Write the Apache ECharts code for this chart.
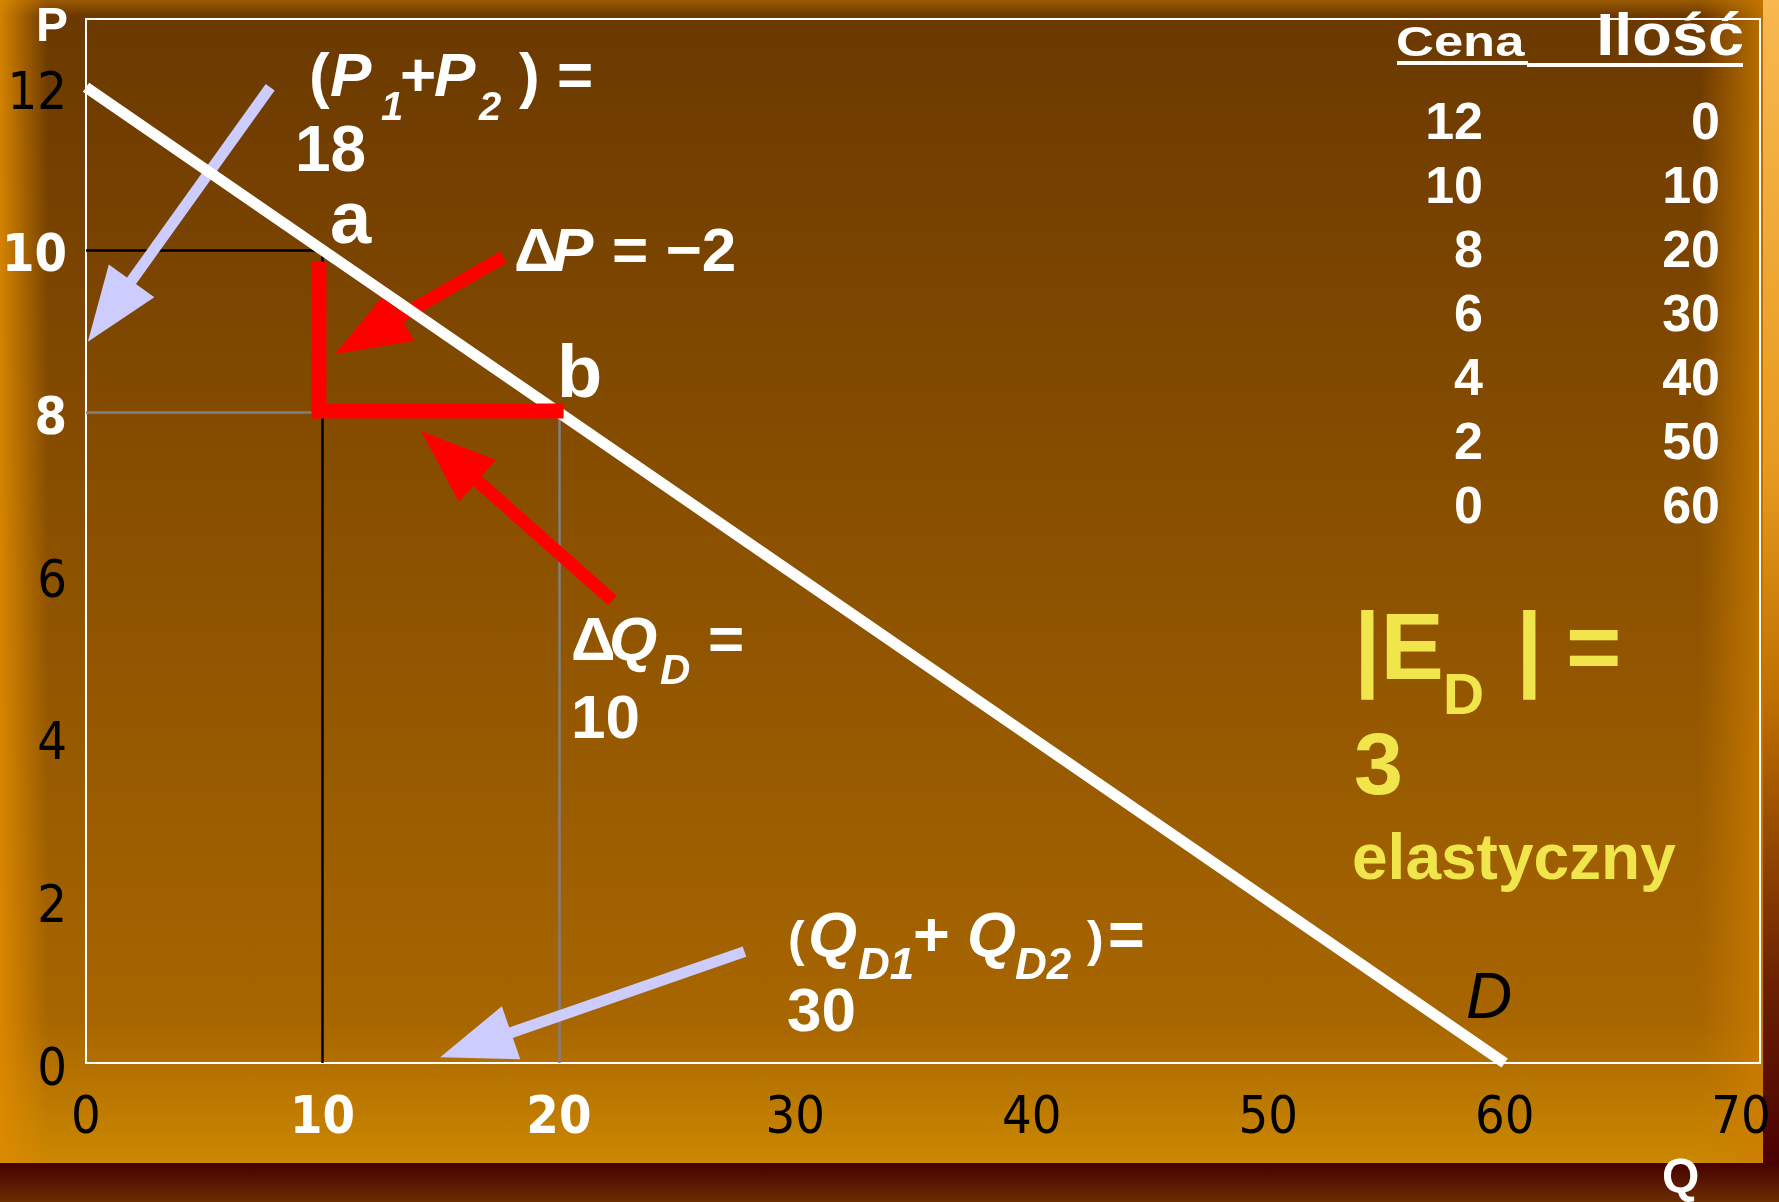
<!DOCTYPE html>
<html>
<head>
<meta charset="utf-8">
<title>Elastyczność popytu</title>
<script src="https://cdn.jsdelivr.net/npm/echarts@6/dist/echarts.min.js"></script>
<style>
  html, body { margin: 0; padding: 0; width: 1779px; height: 1202px; overflow: hidden; background: #4a0000; }
  .bg { position: absolute; }
  #bgMain {
    left: 0; top: 0; width: 1763px; height: 1163px;
    background:
      linear-gradient(to right, rgba(222,138,0,0.9) 0px, rgba(222,138,0,0) 48px, rgba(222,138,0,0) 1700px, rgba(205,125,0,0.8) 1763px),
      linear-gradient(to bottom, rgba(165,98,0,0.8) 0px, rgba(165,98,0,0) 16px),
      linear-gradient(to bottom, #6a3800 0%, #8a5000 45%, #a86600 88%, #cc8800 100%);
  }
  #bgRight {
    left: 1763px; top: 0; width: 16px; height: 1163px;
    background: linear-gradient(to bottom, #f8b850 0%, #e89a20 40%, #c07000 60%, #6a2000 85%, #4a0000 100%);
  }
  #bgBottom {
    left: 0; top: 1163px; width: 1779px; height: 39px;
    background: linear-gradient(to bottom, #460000, #6a2e00);
  }
  #chart { position: absolute; left: 0; top: 0; width: 1779px; height: 1202px; }
</style>
</head>
<body>
<div class="bg" id="bgMain"></div>
<div class="bg" id="bgRight"></div>
<div class="bg" id="bgBottom"></div>
<div id="chart"></div>
<script>
  // dane z tabeli: cena i ilość
  var price = [12, 10, 8, 6, 4, 2, 0];
  var qty = [0, 10, 20, 30, 40, 50, 60];

  // punkty a i b na krzywej popytu [Q, P]
  var pointA = [10, 10];
  var pointB = [20, 8];

  // czerwony kąt ΔP / ΔQ
  var bracket = [[9.85, 9.85], [9.85, 8.02], [20.2, 8.02]];

  // strzałki: [Q ogona, P ogona, Q grotu, P grotu]
  var lavenderArrows = [[7.79, 12.0, 0.08, 8.87], [27.85, 1.37, 14.98, 0.07]];
  var redArrows = [[17.65, 9.91, 10.54, 8.72], [22.26, 5.69, 14.18, 7.77]];

  // zakres osi
  var xMax = 70.8, xStep = 10;
  var yMax = 12.84, yStep = 2;

  var SANS = '"Liberation Sans", Arial, Helvetica, sans-serif';
  var NARROW = '"Liberation Sans Narrow", "Arial Narrow", "DejaVu Sans Condensed", sans-serif';
  var HEAD_LEN = 75, HEAD_W = 28;

  var chart = echarts.init(document.getElementById('chart'));

  // etykieta osi: wyróżnione wartości białe i pogrubione
  function tickFormatter(step, marked) {
    return function (v) {
      if (Math.abs(v % step) > 1e-6) return '';
      return marked.indexOf(v) >= 0 ? '{w|' + v + '}' : '{k|' + v + '}';
    };
  }
  var tickRich = {
    w: { color: '#fff', fontWeight: 'bold', fontSize: 52, fontFamily: NARROW },
    k: { color: '#000', fontWeight: 'normal', fontSize: 52, fontFamily: NARROW }
  };

  function arrowSeries(data, color, shaft, z) {
    return {
      type: 'custom',
      coordinateSystem: 'cartesian2d',
      z: z,
      silent: true,
      clip: false,
      data: data,
      encode: { x: [0, 2], y: [1, 3] },
      renderItem: function (params, api) {
        var t = api.coord([api.value(0), api.value(1)]);
        var h = api.coord([api.value(2), api.value(3)]);
        var dx = h[0] - t[0], dy = h[1] - t[1];
        var len = Math.sqrt(dx * dx + dy * dy);
        var ux = dx / len, uy = dy / len;
        var bx = h[0] - ux * HEAD_LEN, by = h[1] - uy * HEAD_LEN;
        return {
          type: 'group',
          children: [
            { type: 'line', shape: { x1: t[0], y1: t[1], x2: bx + ux * 4, y2: by + uy * 4 },
              style: { stroke: color, lineWidth: shaft } },
            { type: 'polygon',
              shape: { points: [[h[0], h[1]], [bx - uy * HEAD_W, by + ux * HEAD_W], [bx + uy * HEAD_W, by - ux * HEAD_W]] },
              style: { fill: color } }
          ]
        };
      }
    };
  }

  // tekst ustawiany wg linii bazowej
  function txt(x, base, s, size, o) {
    o = o || {};
    return {
      type: 'text',
      x: x,
      y: base - 0.31 * size,
      z: 100,
      scaleX: o.sx || 1,
      silent: true,
      style: {
        text: s,
        fill: o.color || '#fff',
        fontSize: size,
        fontWeight: o.weight || 'bold',
        fontStyle: o.italic ? 'italic' : 'normal',
        fontFamily: o.family || SANS,
        align: o.align || 'left',
        verticalAlign: 'middle'
      }
    };
  }

  var yellow = '#f0e64c';
  var texts = [
    txt(36, 43, 'P', 48),
    txt(1662, 1194, 'Q', 48),
    // (P1+P2) = 18
    txt(309, 98, '(', 62),
    txt(330, 98, 'P', 62, { italic: true }),
    txt(381, 121, '1', 40, { italic: true }),
    txt(400, 98, '+', 62),
    txt(434, 98, 'P', 62, { italic: true }),
    txt(479, 121, '2', 40, { italic: true }),
    txt(519, 98, ')', 62),
    txt(557, 98, '=', 62),
    txt(295, 173, '18', 64),
    // a, b
    txt(330, 246, 'a', 74),
    txt(557, 400, 'b', 74),
    // ΔP = −2
    txt(514, 273, 'Δ', 62),
    txt(552, 273, 'P', 62, { italic: true }),
    txt(612, 273, '= −2', 62),
    // ΔQD = 10
    txt(571, 662, 'Δ', 62),
    txt(609, 662, 'Q', 62, { italic: true }),
    txt(660, 685, 'D', 42, { italic: true }),
    txt(708, 662, '=', 62),
    txt(571, 740, '10', 62),
    // (QD1+ QD2 )= 30
    txt(788, 958, '(', 50),
    txt(808, 958, 'Q', 63, { italic: true }),
    txt(858, 980, 'D1', 44, { italic: true }),
    txt(913, 958, '+', 63),
    txt(967, 958, 'Q', 63, { italic: true }),
    txt(1015, 980, 'D2', 44, { italic: true }),
    txt(1087, 958, ')', 50),
    txt(1108, 958, '=', 63),
    txt(787, 1033, '30', 62),
    // D
    txt(1466, 1020, 'D', 64, { italic: true, weight: 'normal', color: '#000' }),
    // |ED| = 3 elastyczny
    txt(1354, 682, '|E', 95, { color: yellow }),
    txt(1443, 716, 'D', 57, { color: yellow }),
    txt(1516, 682, '|', 95, { color: yellow }),
    txt(1566, 682, '=', 95, { color: yellow }),
    txt(1354, 797, '3', 88, { color: yellow }),
    txt(1352, 881, 'elastyczny', 64, { color: yellow }),
    // nagłówki tabeli
    txt(1396, 57, 'Cena', 42, { sx: 1.25 }),
    txt(1744, 57, 'Ilość', 60, { sx: 1.08, align: 'right' }),
    { type: 'line', z: 100, shape: { x1: 1397, y1: 63, x2: 1528, y2: 63 }, style: { stroke: '#fff', lineWidth: 4 } },
    { type: 'line', z: 100, shape: { x1: 1527, y1: 65, x2: 1743, y2: 65 }, style: { stroke: '#fff', lineWidth: 4 } }
  ];
  price.forEach(function (p, i) {
    texts.push(txt(1483, 141 + i * 63.9, String(p), 52, { align: 'right' }));
    texts.push(txt(1720, 141 + i * 63.9, String(qty[i]), 52, { align: 'right' }));
  });

  // linie pomocnicze z punktów a i b
  var guides = [
    { coords: [[0, pointA[1]], [pointA[0] + 0.1, pointA[1]]], lineStyle: { color: '#000', width: 2.5, opacity: 1 } },
    { coords: [[pointA[0], pointA[1]], [pointA[0], -0.05]], lineStyle: { color: '#000', width: 2.5, opacity: 1 } },
    { coords: [[0, pointB[1]], [pointA[0], pointB[1]]], lineStyle: { color: '#808080', width: 2.5, opacity: 1 } },
    { coords: [[pointB[0], pointB[1]], [pointB[0], -0.05]], lineStyle: { color: '#808080', width: 2.5, opacity: 1 } }
  ];

  var option = {
    backgroundColor: 'transparent',
    animation: false,
    grid: {
      left: 86, top: 19, right: 19, bottom: 139,
      containLabel: false, outerBoundsMode: 'none',
      show: true, backgroundColor: 'transparent', borderColor: '#fff', borderWidth: 2
    },
    xAxis: {
      type: 'value', min: 0, max: xMax, interval: xStep,
      axisLine: { show: false }, axisTick: { show: false }, splitLine: { show: false },
      axisLabel: { margin: 30, fontSize: 52, formatter: tickFormatter(xStep, [pointA[0], pointB[0]]), rich: tickRich }
    },
    yAxis: {
      type: 'value', min: 0, max: yMax, interval: yStep,
      axisLine: { show: false }, axisTick: { show: false }, splitLine: { show: false },
      axisLabel: { margin: 19, fontSize: 52, padding: [16, 0, 0, 0], formatter: tickFormatter(yStep, [pointA[1], pointB[1]]), rich: tickRich }
    },
    graphic: { elements: texts },
    series: [
      {
        type: 'lines', coordinateSystem: 'cartesian2d', z: 2, silent: true,
        data: guides
      },
      arrowSeries(lavenderArrows, '#ccccff', 11, 3),
      arrowSeries(redArrows, '#ff0000', 13, 3),
      {
        name: 'D', type: 'line', z: 4, silent: true, clip: false,
        symbol: 'none',
        lineStyle: { color: '#fff', width: 11 },
        data: qty.map(function (q, i) { return [q, price[i]]; })
      },
      {
        type: 'line', z: 5, silent: true, clip: false,
        symbol: 'none',
        lineStyle: { color: '#ff0000', width: 15, join: 'miter', cap: 'butt' },
        data: bracket
      }
    ]
  };

  chart.setOption(option);
</script>
</body>
</html>
